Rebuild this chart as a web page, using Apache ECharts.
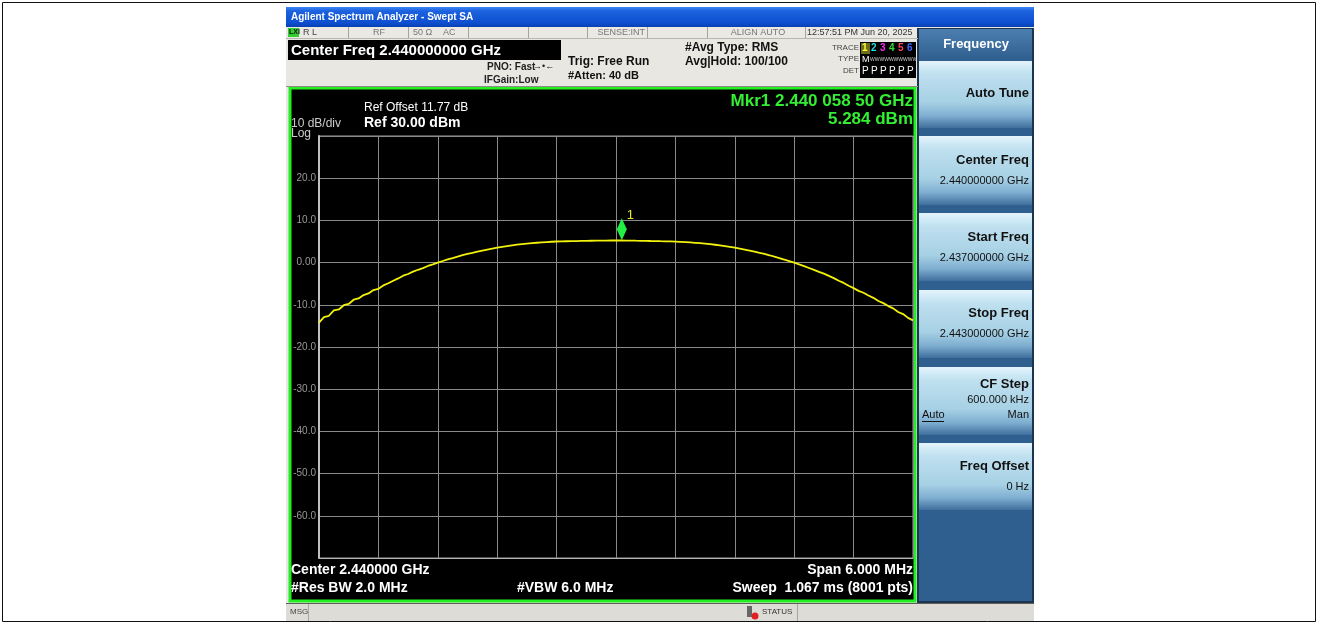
<!DOCTYPE html>
<html><head><meta charset="utf-8">
<script src="https://cdn.jsdelivr.net/npm/echarts@6/dist/echarts.min.js"></script>
<style>html,body{margin:0;padding:0;background:#fff}#c{width:1318px;height:625px}</style>
</head><body><div id="c"></div><script>
// ---- data (frequency offset from 2.440 GHz centre, kHz) ----
const freqOffsetKHz = [-3000,-2950,-2900,-2850,-2800,-2750,-2700,-2650,-2600,-2550,-2500,-2450,-2400,-2350,-2300,-2250,-2200,-2150,-2100,-2050,-2000,-1950,-1900,-1850,-1800,-1750,-1700,-1650,-1600,-1550,-1500,-1450,-1400,-1350,-1300,-1250,-1200,-1150,-1100,-1050,-1000,-950,-900,-850,-800,-750,-700,-650,-600,-550,-500,-450,-400,-350,-300,-250,-200,-150,-100,-50,0,50,100,150,200,250,300,350,400,450,500,550,600,650,700,750,800,850,900,950,1000,1050,1100,1150,1200,1250,1300,1350,1400,1450,1500,1550,1600,1650,1700,1750,1800,1850,1900,1950,2000,2050,2100,2150,2200,2250,2300,2350,2400,2450,2500,2550,2600,2650,2700,2750,2800,2850,2900,2950,3000];
const traceDbm = [-14.2,-12.9,-12.6,-11.3,-11.1,-10.1,-9.8,-8.8,-8.5,-7.7,-7.3,-6.5,-6.2,-5.4,-4.9,-4.3,-3.75,-3.1,-2.7,-2.15,-1.7,-1.3,-0.8,-0.42,0.0,0.38,0.75,1.08,1.42,1.75,2.05,2.32,2.6,2.86,3.1,3.33,3.55,3.74,3.92,4.09,4.24,4.38,4.5,4.6,4.7,4.79,4.87,4.94,5.0,5.03,5.06,5.09,5.11,5.14,5.16,5.18,5.2,5.21,5.23,5.24,5.25,5.24,5.22,5.22,5.19,5.17,5.15,5.12,5.1,5.07,5.05,5.02,4.98,4.93,4.86,4.78,4.69,4.6,4.49,4.37,4.23,4.08,3.91,3.73,3.54,3.32,3.09,2.85,2.59,2.31,2.04,1.74,1.41,1.07,0.72,0.37,-0.02,-0.43,-0.84,-1.28,-1.72,-2.18,-2.62,-3.15,-3.68,-4.3,-4.82,-5.5,-6.05,-6.7,-7.15,-7.8,-8.35,-9.1,-9.6,-10.3,-10.85,-11.7,-12.2,-13.1,-13.7];
const yTickValues = [20,10,0,-10,-20,-30,-40,-50,-60];
const yTickLabels = ['20.0','10.0','0.00','-10.0','-20.0','-30.0','-40.0','-50.0','-60.0'];
const markerOffsetKHz = 58.5;
const markerLevel = 5.284;

// ---- chart ----
const F = '"Liberation Sans", Arial, sans-serif';
const chart = echarts.init(document.getElementById('c'), null, {renderer:'canvas'});
function T(x,y,text,o){o=o||{};return {type:'text',x:x,y:y,z:o.z||20,style:{text:text,fill:o.c||'#000',font:(o.b?'bold ':'')+(o.s||12)+'px '+(o.f||F),align:o.a||'left',verticalAlign:'middle'}};}
function R(x,y,w,h,fill,o){o=o||{};return {type:'rect',z:o.z!==undefined?o.z:-5,shape:{x:x,y:y,width:w,height:h},style:{fill:fill,stroke:o.st||null,lineWidth:o.lw||0}};}
function L(x1,y1,x2,y2,c,w,z){return {type:'line',z:z||1,shape:{x1:x1,y1:y1,x2:x2,y2:y2},style:{stroke:c,lineWidth:w||1}};}
function grad(stops){return {type:'linear',x:0,y:0,x2:0,y2:1,colorStops:stops.map(s=>({offset:s[0],color:s[1]}))};}

const g = [];
// page frame
g.push({type:'rect',z:-10,shape:{x:2.5,y:2.5,width:1313,height:619},style:{fill:'#fff',stroke:'#111',lineWidth:1}});
// window background
g.push(R(286,7,748,614,'#e9e7e2',{z:-9}));
// title bar
g.push(R(286,7,748,20,grad([[0,'#3d86f5'],[0.2,'#1d62de'],[0.8,'#0d4fd0'],[1,'#0a3fb0']]),{z:-8}));
g.push(T(291,17,'Agilent Spectrum Analyzer - Swept SA',{c:'#fff',b:1,s:10}));
// status row
g.push(R(286,27,632,11,'#ebe9e4',{z:-8}));
g.push(L(286,38.5,918,38.5,'#b9b6ae',1));
[348,408,468,528,587,647,707,805].forEach(x=>g.push(L(x+0.5,27,x+0.5,38,'#a7a49c',1)));
g.push(R(288,28,11,9,'#33cc33',{z:-7}));
g.push(T(289,32.5,'LXI',{c:'#111',b:1,s:7}));
g.push(T(303,32.5,'R L',{c:'#444',s:9}));
g.push(T(373,32.5,'RF',{c:'#777',s:9}));
g.push(T(413,32.5,'50 Ω',{c:'#777',s:9}));
g.push(T(443,32.5,'AC',{c:'#777',s:9}));
g.push(T(645,32.5,'SENSE:INT',{c:'#777',s:9,a:'right'}));
g.push(T(758,32.5,'ALIGN AUTO',{c:'#777',s:9,a:'center'}));
g.push(T(807,32.5,'12:57:51 PM Jun 20, 2025',{c:'#333',s:9}));
// info area
g.push(R(288,40,273,20,'#000',{z:-7}));
g.push(T(291,51,'Center Freq 2.440000000 GHz',{c:'#fff',b:1,s:15}));
g.push(T(487,67,'PNO: Fast',{c:'#222',b:1,s:10}));
g.push(T(533,67,'→•←',{c:'#222',s:9}));
g.push(T(484,80,'IFGain:Low',{c:'#222',b:1,s:10}));
g.push(T(568,62,'Trig: Free Run',{c:'#111',b:1,s:12}));
g.push(T(568,76,'#Atten: 40 dB',{c:'#111',b:1,s:11}));
g.push(T(685,48,'#Avg Type: RMS',{c:'#111',b:1,s:12}));
g.push(T(685,62,'Avg|Hold: 100/100',{c:'#111',b:1,s:12}));
g.push(T(859,48,'TRACE',{c:'#444',s:8,a:'right'}));
g.push(T(859,59,'TYPE',{c:'#444',s:8,a:'right'}));
g.push(T(859,71,'DET',{c:'#444',s:8,a:'right'}));
g.push(R(860,42,56,36,'#000',{z:-7}));
g.push(R(861,43,9,11,'#6b6b1a',{z:-6}));
const tc=['#ffff33','#22dddd','#ee33ee','#33dd33','#ff4466','#4466ff'];
tc.forEach((c,i)=>g.push(T(862+i*9,48.5,String(i+1),{c:c,b:1,s:10})));
g.push(T(862,59.5,'M',{c:'#fff',s:9}));
g.push(T(870,59.5,'WWWWWWWWWW',{c:'#ccc',s:5}));
for(let i=0;i<6;i++) g.push(T(862+i*9,71.5,'P',{c:'#fff',s:10}));
g.push(L(286,86.5,918,86.5,'#8f8c86',1));
// graph panel
g.push(R(290,88,625,513,'#000',{z:-7,st:'#22ee22',lw:3}));
g.push(T(364,108,'Ref Offset 11.77 dB',{c:'#fff',s:12}));
g.push(T(364,123,'Ref 30.00 dBm',{c:'#fff',b:1,s:14}));
g.push(T(291,124,'10 dB/div',{c:'#ccc',s:12}));
g.push(T(291,134,'Log',{c:'#ccc',s:12}));
g.push(T(913,101,'Mkr1 2.440 058 50 GHz',{c:'#33ee33',b:1,s:17,a:'right'}));
g.push(T(913,119,'5.284 dBm',{c:'#33ee33',b:1,s:17,a:'right'}));
g.push(T(291,570,'Center 2.440000 GHz',{c:'#fff',b:1,s:14}));
g.push(T(291,588,'#Res BW 2.0 MHz',{c:'#fff',b:1,s:14}));
g.push(T(517,588,'#VBW 6.0 MHz',{c:'#fff',b:1,s:14}));
g.push(T(913,570,'Span 6.000 MHz',{c:'#fff',b:1,s:14,a:'right'}));
g.push(T(913,588,'Sweep  1.067 ms (8001 pts)',{c:'#fff',b:1,s:14,a:'right'}));
// softkey panel
g.push(R(917,28,117,575,'#1d3550',{z:-8}));
g.push(R(919,29,113,572,'#2f5f8f',{z:-7}));
g.push(R(919,29,113,30,grad([[0,'#4c7fb0'],[1,'#2f5f8f']]),{z:-6}));
g.push(T(976,44,'Frequency',{c:'#fff',b:1,s:13,a:'center'}));
const btns=[[61,128],[136,205],[213,281],[290,358],[367,435],[443,510]];
btns.forEach(b=>g.push(R(919,b[0],113,b[1]-b[0],grad([[0,'#e6f4fb'],[0.08,'#d4ecf7'],[0.2,'#bfe0ef'],[0.62,'#a6d0e4'],[0.82,'#7eaed0'],[1,'#3f6f9c']]),{z:-6})));
g.push(T(1029,93,'Auto Tune',{c:'#111',b:1,s:13,a:'right'}));
g.push(T(1029,160,'Center Freq',{c:'#111',b:1,s:13,a:'right'}));
g.push(T(1029,181,'2.440000000 GHz',{c:'#111',s:11,a:'right'}));
g.push(T(1029,237,'Start Freq',{c:'#111',b:1,s:13,a:'right'}));
g.push(T(1029,258,'2.437000000 GHz',{c:'#111',s:11,a:'right'}));
g.push(T(1029,313,'Stop Freq',{c:'#111',b:1,s:13,a:'right'}));
g.push(T(1029,334,'2.443000000 GHz',{c:'#111',s:11,a:'right'}));
g.push(T(1029,384,'CF Step',{c:'#111',b:1,s:13,a:'right'}));
g.push(T(1029,400,'600.000 kHz',{c:'#111',s:11,a:'right'}));
g.push(T(1029,415,'Man',{c:'#111',s:11,a:'right'}));
g.push(T(922,415,'Auto',{c:'#111',s:11}));
g.push(L(922,421.5,944,421.5,'#111',1,20));
g.push(T(1029,466,'Freq Offset',{c:'#111',b:1,s:13,a:'right'}));
g.push(T(1029,487,'0 Hz',{c:'#111',s:11,a:'right'}));
// bottom bar
g.push(R(286,603,748,18,'#dedcd7',{z:-8}));
g.push(L(286,603.5,1034,603.5,'#5f5d58',1));
g.push(T(290,612,'MSG',{c:'#444',s:8}));
g.push(L(308.5,604,308.5,621,'#a9a69e',1));
g.push(R(747,606,5,11,'#666',{z:5}));
g.push({type:'circle',z:6,shape:{cx:755,cy:616,r:3.5},style:{fill:'#e02020'}});
g.push(T(762,612,'STATUS',{c:'#333',s:8}));
g.push(L(797.5,604,797.5,621,'#a9a69e',1));

chart.setOption({
  animation:false,
  backgroundColor:'transparent',
  graphic:g,
  grid:{left:319,top:136,width:594,height:422,show:true,backgroundColor:'#000',borderColor:'#9a9a9a',borderWidth:1,z:0},
  xAxis:{type:'value',min:-3000,max:3000,interval:600,
    axisLine:{show:true,onZero:false,lineStyle:{color:'#b5b5b5',width:1}},axisTick:{show:false},axisLabel:{show:false},
    splitLine:{show:true,lineStyle:{color:'#8a8a8a',width:1}}},
  yAxis:{type:'value',min:-70,max:30,interval:10,
    axisLine:{show:true,onZero:false,lineStyle:{color:'#c0c0c0',width:2}},axisTick:{show:false},
    axisLabel:{show:true,margin:3,color:'#9a9a9a',fontSize:10,fontFamily:F,
      formatter:v=>{const i=yTickValues.indexOf(v);return i>=0?yTickLabels[i]:'';}},
    splitLine:{show:true,lineStyle:{color:'#8a8a8a',width:1}}},
  series:[{type:'line',z:5,data:freqOffsetKHz.map((f,i)=>[f,traceDbm[i]]),showSymbol:false,
    lineStyle:{color:'#f2f20a',width:1.8},
    markPoint:{symbol:'diamond',symbolSize:[10,22],symbolOffset:[0,-11],
      itemStyle:{color:'#22ee44'},
      label:{show:true,formatter:'1',color:'#e8e830',fontSize:13,fontFamily:F,position:[10,-9]},
      data:[{coord:[markerOffsetKHz,markerLevel]}]}}]
});
</script></body></html>
